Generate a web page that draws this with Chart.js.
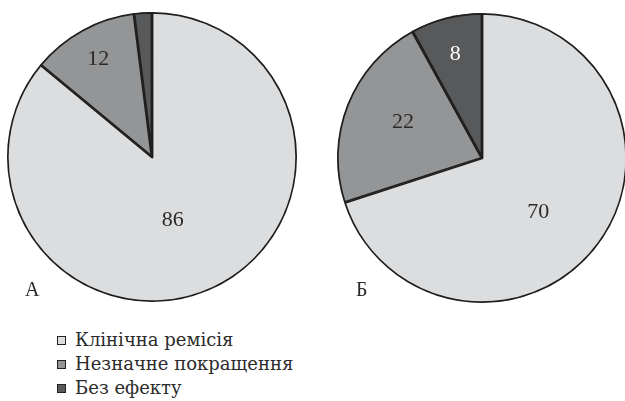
<!DOCTYPE html>
<html lang="uk">
<head>
<meta charset="utf-8">
<script src="https://cdn.jsdelivr.net/npm/chart.js@4"></script>
<style>
  html, body { margin: 0; padding: 0; background: #fff; }
  body { width: 625px; height: 401px; position: relative; overflow: hidden;
         font-family: "DejaVu Serif", "Liberation Serif", serif; color: #2b2b2b; }
  canvas { position: absolute; }
  #pieA { left: 2px; top: 7px; }
  #pieB { left: 332px; top: 8px; }
  .tag { position: absolute; font-family: "Liberation Serif", serif; font-size: 20px; line-height: 1; }
  #legend { position: absolute; left: 57px; top: 328px; font-size: 18px; line-height: 24px; }
  #legend div { display: flex; align-items: center; white-space: nowrap; }
  #legend span.box { display: inline-block; width: 7px; height: 7px; border: 1px solid #222;
                     margin-right: 9px; }
</style>
</head>
<body>
<canvas id="pieA" width="300" height="300"></canvas>
<canvas id="pieB" width="300" height="300"></canvas>
<div class="tag" style="left:25px; top:279px;">А</div>
<div class="tag" style="left:356px; top:279px;">Б</div>
<div id="legend"></div>
<script>
// Outcome categories shared by both groups
const categories = ["Клінічна ремісія", "Незначне покращення", "Без ефекту"];
// Share of patients per outcome, %
const groupA = [86, 12, 2];
const groupB = [70, 22, 8];
// Labels printed on the slices (the smallest slice of group A has none)
const labelsA = ["86", "12", ""];
const labelsB = ["70", "22", "8"];

const fills = ["#dcdddf", "#949597", "#58595b"];
const labelColors = ["#2b2b2b", "#2b2b2b", "#ffffff"];

// Label placement inside a slice: fraction of radius, angular nudge in degrees
const placeA = [{ r: 0.46, d: 7 }, { r: 0.77, d: 0 }, { r: 0.7, d: 0 }];
const placeB = [{ r: 0.54, d: 8 }, { r: 0.60, d: 3 }, { r: 0.74, d: 0 }];

const sliceLabels = {
  id: "sliceLabels",
  afterDatasetsDraw(chart, args, opts) {
    const ctx = chart.ctx;
    const meta = chart.getDatasetMeta(0);
    ctx.save();
    ctx.font = '22px "Liberation Serif", serif';
    ctx.textAlign = "center";
    ctx.textBaseline = "middle";
    meta.data.forEach((arc, i) => {
      const text = opts.texts[i];
      if (!text) return;
      const p = opts.place[i];
      const mid = (arc.startAngle + arc.endAngle) / 2 + p.d * Math.PI / 180;
      const r = arc.outerRadius * p.r;
      ctx.fillStyle = labelColors[i];
      ctx.fillText(text, arc.x + Math.cos(mid) * r, arc.y + Math.sin(mid) * r);
    });
    ctx.restore();
  }
};

function makePie(id, values, texts, place) {
  return new Chart(document.getElementById(id), {
    type: "pie",
    data: {
      labels: categories,
      datasets: [{
        data: values,
        backgroundColor: fills,
        borderColor: "#1e1e1e",
        borderWidth: 1.4,
        borderAlign: "inner"
      }]
    },
    options: {
      responsive: false,
      animation: false,
      radius: 145,
      layout: { padding: 0 },
      plugins: {
        legend: { display: false },
        tooltip: { enabled: false },
        sliceLabels: { texts, place }
      }
    },
    plugins: [sliceLabels]
  });
}

makePie("pieA", groupA, labelsA, placeA);
makePie("pieB", groupB, labelsB, placeB);

const legend = document.getElementById("legend");
categories.forEach((name, i) => {
  const row = document.createElement("div");
  const box = document.createElement("span");
  box.className = "box";
  box.style.background = fills[i];
  row.appendChild(box);
  row.appendChild(document.createTextNode(name));
  legend.appendChild(row);
});
</script>
</body>
</html>
